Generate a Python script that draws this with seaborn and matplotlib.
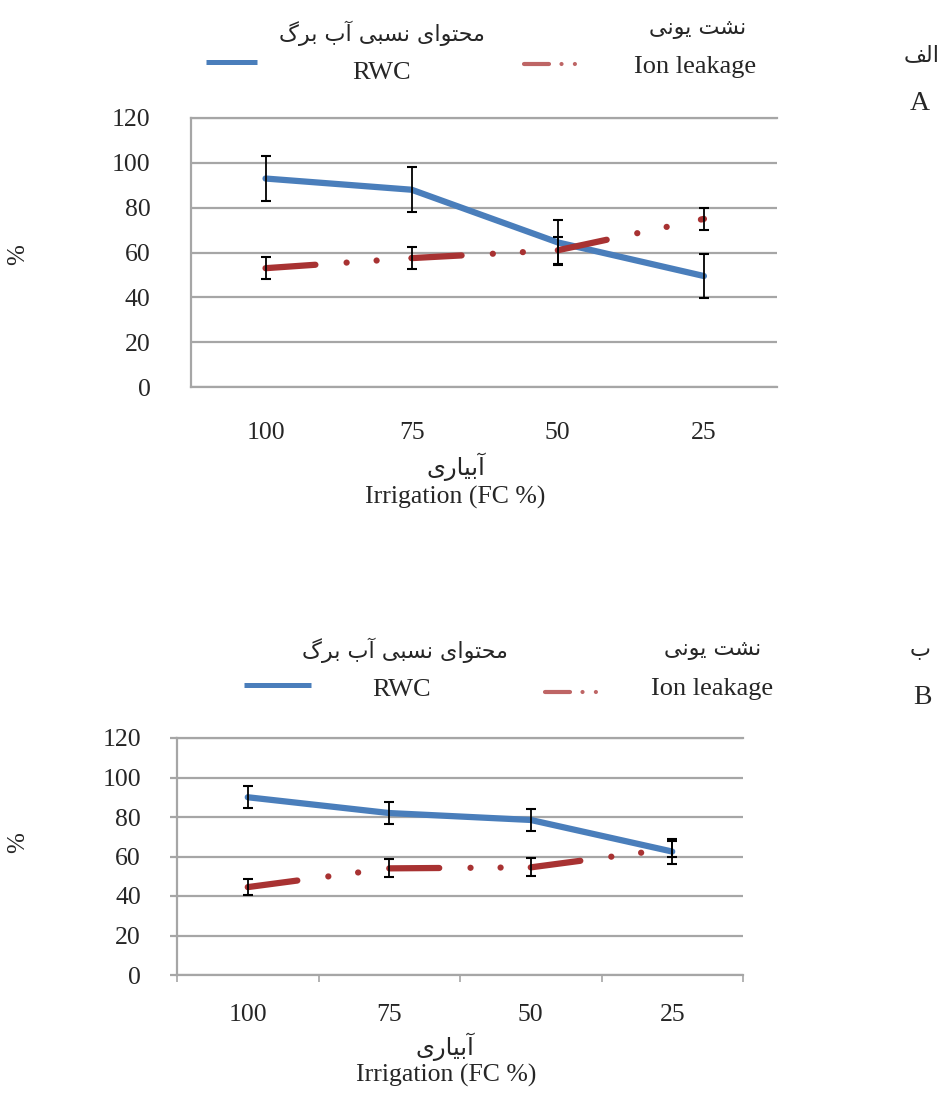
import matplotlib
matplotlib.use("Agg")
import matplotlib.lines as mlines
import matplotlib.pyplot as plt
import numpy as np
import pandas as pd
import seaborn as sns

# irrigation levels (FC %) and y ticks
irrigation = ["100", "75", "50", "25"]
y_ticks = [0, 20, 40, 60, 80, 100, 120]

# panel A
rwc_a = [93, 88, 64.5, 49.5]
rwc_a_err = [10, 10, 10, 10]
ion_a = [53, 57.5, 61, 75]
ion_a_err = [5, 5, 6, 5]

# panel B
rwc_b = [90, 82, 78.5, 62.5]
rwc_b_err = [5.5, 5.5, 5.5, 6.5]
ion_b = [44.5, 54, 54.5, 64]
ion_b_err = [4, 4.5, 4.5, 4]

BLUE = "#4a7ebb"
RED = "#a83232"
GRID = "#a6a6a6"
LW = 4.5
ION_DASH = (8, 5, 0.01, 4.8, 0.01, 5.6)
SERIF = ["Liberation Serif", "DejaVu Serif"]
ARABIC = ["DejaVu Sans"]

# Arabic presentation forms: isolated, final, initial, medial
FORMS = {
    "ا": ("\ufe8d", "\ufe8e", None, None),
    "آ": ("\ufe81", "\ufe82", None, None),
    "ب": ("\ufe8f", "\ufe90", "\ufe91", "\ufe92"),
    "ت": ("\ufe95", "\ufe96", "\ufe97", "\ufe98"),
    "ح": ("\ufea1", "\ufea2", "\ufea3", "\ufea4"),
    "ر": ("\ufead", "\ufeae", None, None),
    "س": ("\ufeb1", "\ufeb2", "\ufeb3", "\ufeb4"),
    "ش": ("\ufeb5", "\ufeb6", "\ufeb7", "\ufeb8"),
    "ف": ("\ufed1", "\ufed2", "\ufed3", "\ufed4"),
    "ل": ("\ufedd", "\ufede", "\ufedf", "\ufee0"),
    "م": ("\ufee1", "\ufee2", "\ufee3", "\ufee4"),
    "ن": ("\ufee5", "\ufee6", "\ufee7", "\ufee8"),
    "و": ("\ufeed", "\ufeee", None, None),
    "ی": ("\ufbfc", "\ufbfd", "\ufbfe", "\ufbff"),
    "گ": ("\ufb92", "\ufb93", "\ufb94", "\ufb95"),
}


def shape(text: str) -> str:
    # join letters and reverse to visual order (no shaping engine in matplotlib)
    out = []
    for i, ch in enumerate(text):
        if ch not in FORMS:
            out.append(ch)
            continue
        prev = text[i - 1] if i > 0 else ""
        nxt = text[i + 1] if i + 1 < len(text) else ""
        iso, fin, ini, med = FORMS[ch]
        join_prev = prev in FORMS and FORMS[prev][2] is not None
        join_next = nxt in FORMS and ini is not None
        if join_prev and join_next:
            out.append(med)
        elif join_prev:
            out.append(fin)
        elif join_next:
            out.append(ini)
        else:
            out.append(iso)
    return "".join(reversed(out))


def fx(px):
    return px / 941


def fy(py):
    return 1 - py / 1104


def draw_series(ax, rwc, rwc_err, ion, ion_err):
    x = np.arange(len(irrigation))
    df = pd.DataFrame({"x": x, "rwc": rwc})
    sns.lineplot(data=df, x="x", y="rwc", ax=ax, color=BLUE, lw=LW,
                 solid_joinstyle="round", solid_capstyle="round", zorder=3)
    # ion leakage drawn per segment so the dash pattern restarts at each point
    seg = pd.DataFrame({
        "x": np.repeat(x, 2)[1:-1],
        "y": np.repeat(ion, 2)[1:-1],
        "seg": np.repeat(np.arange(len(x) - 1), 2),
    })
    n0 = len(ax.lines)
    sns.lineplot(data=seg, x="x", y="y", units="seg", estimator=None, ax=ax,
                 color=RED, lw=LW, zorder=4)
    for ln in ax.lines[n0:]:
        ln.set_linestyle((0, ION_DASH))
        ln.set_dash_capstyle("round")
    for vals, errs in [(rwc, rwc_err), (ion, ion_err)]:
        ax.errorbar(x, vals, yerr=errs, fmt="none", ecolor="black",
                    elinewidth=1.3, capsize=3.5, capthick=1.5, zorder=5)
    ax.set_ylim(0, 120)
    ax.set_yticks(y_ticks)
    ax.set_xticks(x)
    ax.set_xticklabels(irrigation)
    ax.set_xlabel("")
    ax.set_ylabel("")
    ax.yaxis.grid(True, color=GRID, lw=1.6)
    ax.set_axisbelow(True)
    for lab in ax.get_xticklabels() + ax.get_yticklabels():
        lab.set_family(SERIF)
        lab.set_fontsize(18.5)
    for s in ["left", "bottom", "top"]:
        ax.spines[s].set_color(GRID)
        ax.spines[s].set_linewidth(1.6)
    ax.spines["right"].set_visible(False)


def legend_block(fa_rwc_xy, rwc_xy, blue_x, blue_y, fa_ion_xy, ion_xy, red_x, red_y,
                 fa_tag_xy, tag_xy, fa_tag, tag):
    fig = plt.gcf()
    fig.text(fx(fa_rwc_xy[0]), fy(fa_rwc_xy[1]), shape("محتوای نسبی آب برگ"),
             family=ARABIC, fontsize=16, ha="center", va="center")
    fig.text(fx(rwc_xy[0]), fy(rwc_xy[1]), "RWC", family=SERIF, fontsize=19,
             ha="center", va="center")
    fig.text(fx(fa_ion_xy[0]), fy(fa_ion_xy[1]), shape("نشت یونی"),
             family=ARABIC, fontsize=16, ha="center", va="center")
    fig.text(fx(ion_xy[0]), fy(ion_xy[1]), "Ion leakage", family=SERIF,
             fontsize=19, ha="center", va="center")
    fig.text(fx(fa_tag_xy[0]), fy(fa_tag_xy[1]), shape(fa_tag), family=ARABIC,
             fontsize=16, ha="center", va="center")
    fig.text(fx(tag_xy[0]), fy(tag_xy[1]), tag, family=SERIF, fontsize=20,
             ha="center", va="center")
    fig.add_artist(mlines.Line2D([fx(blue_x[0]), fx(blue_x[1])], [fy(blue_y)] * 2,
                                 transform=fig.transFigure, color=BLUE, lw=3.6,
                                 solid_capstyle="butt"))
    red = mlines.Line2D([fx(red_x[0]), fx(red_x[1])], [fy(red_y)] * 2,
                        transform=fig.transFigure, color=RED, lw=3, alpha=0.75)
    red.set_linestyle((0, (6, 3, 0.01, 3.2, 0.01, 10)))
    red.set_dash_capstyle("round")
    fig.add_artist(red)


def axis_titles(fa_xy, en_xy, pct_xy):
    fig = plt.gcf()
    fig.text(fx(fa_xy[0]), fy(fa_xy[1]), shape("آبیاری"), family=ARABIC,
             fontsize=17.5, ha="center", va="center")
    fig.text(fx(en_xy[0]), fy(en_xy[1]), "Irrigation (FC %)", family=SERIF,
             fontsize=18.5, ha="center", va="center")
    fig.text(fx(pct_xy[0]), fy(pct_xy[1]), "%", family=SERIF, fontsize=18,
             rotation=90, ha="center", va="center")


sns.set_theme(style="white")
plt.rcParams["font.family"] = SERIF

fig = plt.figure(figsize=(9.41, 11.04), dpi=100)

# panel A
ax_a = fig.add_axes([fx(191), fy(387), fx(777) - fx(191), fy(118) - fy(387)])
draw_series(ax_a, rwc_a, rwc_a_err, ion_a, ion_a_err)
ax_a.set_xlim(-0.51, 3.5)
ax_a.tick_params(axis="y", length=0, pad=29)
ax_a.tick_params(axis="x", length=0, pad=25)
legend_block((382, 33), (382, 73), (206, 257), 62, (698, 29), (695, 67),
             (524, 578), 64, (922, 55), (920, 103), "الف", "A")
axis_titles((456, 467), (455, 497), (18, 255))

# panel B
ax_b = fig.add_axes([fx(177), fy(975), fx(743) - fx(177), fy(738) - fy(975)])
draw_series(ax_b, rwc_b, rwc_b_err, ion_b, ion_b_err)
ax_b.set_xlim(-0.5, 3.5)
ax_b.set_xticks(np.arange(len(irrigation) + 1) - 0.5, minor=True)
ax_b.tick_params(axis="x", which="minor", bottom=True, length=5, width=1.2,
                 color=GRID, direction="out")
ax_b.tick_params(axis="x", which="major", length=0, pad=21)
ax_b.tick_params(axis="y", left=True, length=5, width=1.6, color=GRID,
                 direction="out", pad=21)
legend_block((405, 650), (402, 690), (244, 311), 685, (713, 650), (712, 689),
             (545, 603), 692, (920, 650), (922, 698), "ب", "B")
axis_titles((445, 1047), (446, 1075), (18, 843))

fig.savefig("out.png", dpi=100)
